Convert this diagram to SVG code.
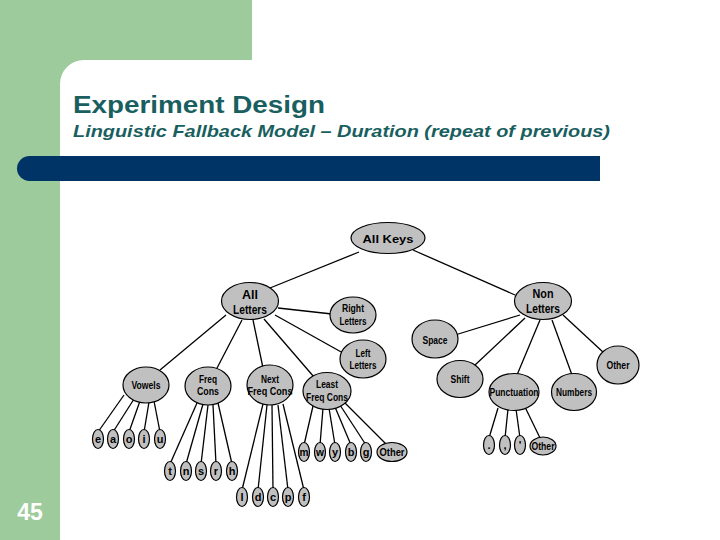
<svg xmlns="http://www.w3.org/2000/svg" width="720" height="540" viewBox="0 0 720 540">
<style>
.bg{fill:#9dcb9c}
.n{fill:#c0c0c0;stroke:#000;stroke-width:1.2}
.t{font-family:"Liberation Sans",Arial,sans-serif;font-weight:bold;font-size:11px;fill:#000;text-anchor:middle}
.big{font-size:12.5px}
.lf{font-size:11px}
.e line{stroke:#000;stroke-width:1.3}
.title{font-family:"Liberation Sans",Arial,sans-serif;font-weight:bold;fill:#1a5f5f}
</style>
<rect width="720" height="540" fill="#fff"/>
<rect class="bg" x="0" y="0" width="252" height="60"/>
<rect class="bg" x="0" y="0" width="60" height="540"/>
<path class="bg" d="M60,60 L84,60 A24,24 0 0 0 60,84 Z"/>
<rect x="17" y="156" width="583" height="25" rx="12.5" fill="#003366"/>
<rect x="580" y="156" width="20" height="25" fill="#003366"/>
<text class="title" x="73" y="113" font-size="24" textLength="252" lengthAdjust="spacingAndGlyphs">Experiment Design</text>
<text class="title" x="73" y="137" font-size="17" font-style="italic" textLength="537" lengthAdjust="spacingAndGlyphs">Linguistic Fallback Model – Duration (repeat of previous)</text>
<text x="30" y="520" font-family="'Liberation Sans',Arial,sans-serif" font-weight="bold" font-size="23" fill="#fff" text-anchor="middle">45</text>

<g id="connectors" class="e">
<line x1="359" y1="252" x2="270" y2="288"/>
<line x1="413" y1="250" x2="515" y2="295"/>
<line x1="278" y1="308" x2="332" y2="314"/>
<line x1="275" y1="315" x2="343" y2="353"/>
<line x1="226" y1="315" x2="160" y2="370"/>
<line x1="242" y1="320" x2="216" y2="370"/>
<line x1="253" y1="320" x2="263" y2="368"/>
<line x1="264" y1="319" x2="314" y2="377"/>
<line x1="520" y1="315" x2="455" y2="335"/>
<line x1="525" y1="318" x2="474" y2="366"/>
<line x1="540" y1="320" x2="517" y2="375"/>
<line x1="552" y1="320" x2="572" y2="375"/>
<line x1="563" y1="315" x2="604" y2="353"/>
<line x1="124" y1="395" x2="98" y2="432"/>
<line x1="134" y1="399" x2="113" y2="432"/>
<line x1="140" y1="401" x2="129" y2="432"/>
<line x1="149" y1="402" x2="144" y2="432"/>
<line x1="154" y1="401" x2="160" y2="432"/>
<line x1="197" y1="403" x2="170" y2="464"/>
<line x1="203" y1="404" x2="186" y2="464"/>
<line x1="208" y1="405" x2="201" y2="464"/>
<line x1="213" y1="405" x2="216" y2="464"/>
<line x1="218" y1="403" x2="232" y2="464"/>
<line x1="263" y1="404" x2="242" y2="490"/>
<line x1="267" y1="405" x2="258" y2="490"/>
<line x1="272" y1="405" x2="273" y2="490"/>
<line x1="278" y1="405" x2="288" y2="490"/>
<line x1="283" y1="404" x2="304" y2="490"/>
<line x1="313" y1="406" x2="304" y2="445"/>
<line x1="323" y1="408" x2="320" y2="445"/>
<line x1="329" y1="408" x2="335" y2="445"/>
<line x1="335" y1="407" x2="351" y2="445"/>
<line x1="340" y1="405" x2="366" y2="445"/>
<line x1="345" y1="403" x2="387" y2="445"/>
<line x1="498" y1="408" x2="489" y2="438"/>
<line x1="508" y1="409" x2="505" y2="438"/>
<line x1="516" y1="409" x2="520" y2="438"/>
<line x1="525" y1="407" x2="541" y2="440"/>
</g>

<g id="all-keys"><ellipse class="n" cx="388" cy="238" rx="37" ry="15.5"/><text class="t" x="388" y="243" font-size="15" textLength="51" lengthAdjust="spacingAndGlyphs">All Keys</text></g>
<g id="all-letters"><ellipse class="n" cx="250" cy="301" rx="28.5" ry="18.5"/><text class="t big" x="250" y="299">All</text><text class="t big" x="250" y="314" textLength="34" lengthAdjust="spacingAndGlyphs">Letters</text></g>
<g id="non-letters"><ellipse class="n" cx="543" cy="301" rx="28.5" ry="18.5"/><text class="t big" x="543" y="298" textLength="21" lengthAdjust="spacingAndGlyphs">Non</text><text class="t big" x="543" y="313" textLength="34" lengthAdjust="spacingAndGlyphs">Letters</text></g>
<g id="right-letters"><ellipse class="n" cx="353" cy="315" rx="23" ry="18"/><text class="t" x="353" y="312" textLength="22" lengthAdjust="spacingAndGlyphs">Right</text><text class="t" x="353" y="325" textLength="27" lengthAdjust="spacingAndGlyphs">Letters</text></g>
<g id="left-letters"><ellipse class="n" cx="363" cy="359" rx="23" ry="19"/><text class="t" x="363" y="357" textLength="15" lengthAdjust="spacingAndGlyphs">Left</text><text class="t" x="363" y="369" textLength="27" lengthAdjust="spacingAndGlyphs">Letters</text></g>
<g id="vowels"><ellipse class="n" cx="146" cy="385" rx="23" ry="18"/><text class="t" x="146" y="389" textLength="29" lengthAdjust="spacingAndGlyphs">Vowels</text></g>
<g id="freq-cons"><ellipse class="n" cx="208" cy="386" rx="23" ry="19"/><text class="t" x="208" y="383" textLength="18" lengthAdjust="spacingAndGlyphs">Freq</text><text class="t" x="208" y="395" textLength="22" lengthAdjust="spacingAndGlyphs">Cons</text></g>
<g id="next-freq-cons"><ellipse class="n" cx="270" cy="385" rx="23" ry="20"/><text class="t" x="270" y="383" textLength="18" lengthAdjust="spacingAndGlyphs">Next</text><text class="t" x="270" y="395" textLength="45" lengthAdjust="spacingAndGlyphs">Freq Cons</text></g>
<g id="least-freq-cons"><ellipse class="n" cx="327" cy="391" rx="24" ry="18.5"/><text class="t" x="327" y="388" textLength="22" lengthAdjust="spacingAndGlyphs">Least</text><text class="t" x="327" y="401" textLength="42" lengthAdjust="spacingAndGlyphs">Freq Cons</text></g>
<g id="space"><ellipse class="n" cx="435" cy="339" rx="23" ry="19"/><text class="t" x="435" y="344" textLength="25" lengthAdjust="spacingAndGlyphs">Space</text></g>
<g id="shift"><ellipse class="n" cx="460" cy="379" rx="23" ry="18.5"/><text class="t" x="460" y="383" textLength="19" lengthAdjust="spacingAndGlyphs">Shift</text></g>
<g id="punctuation"><ellipse class="n" cx="514" cy="392" rx="25" ry="18.5"/><text class="t" x="514" y="396" textLength="49" lengthAdjust="spacingAndGlyphs">Punctuation</text></g>
<g id="numbers"><ellipse class="n" cx="574" cy="392" rx="22.5" ry="18.5"/><text class="t" x="574" y="396" textLength="36" lengthAdjust="spacingAndGlyphs">Numbers</text></g>
<g id="other-nonletters"><ellipse class="n" cx="618" cy="365" rx="21" ry="19"/><text class="t" x="618" y="369" textLength="23" lengthAdjust="spacingAndGlyphs">Other</text></g>

<g id="leaf-e"><ellipse class="n" cx="98" cy="439" rx="5.5" ry="9.5"/><text class="t lf" x="98" y="443">e</text></g>
<g id="leaf-a"><ellipse class="n" cx="113" cy="439" rx="5.5" ry="9.5"/><text class="t lf" x="113" y="443">a</text></g>
<g id="leaf-o"><ellipse class="n" cx="129" cy="439" rx="5.5" ry="9.5"/><text class="t lf" x="129" y="443">o</text></g>
<g id="leaf-i"><ellipse class="n" cx="144" cy="439" rx="5.5" ry="9.5"/><text class="t lf" x="144" y="443">i</text></g>
<g id="leaf-u"><ellipse class="n" cx="160" cy="439" rx="5.5" ry="9.5"/><text class="t lf" x="160" y="443">u</text></g>

<g id="leaf-t"><ellipse class="n" cx="170" cy="471" rx="5.5" ry="9.5"/><text class="t lf" x="170" y="475">t</text></g>
<g id="leaf-n"><ellipse class="n" cx="186" cy="471" rx="5.5" ry="9.5"/><text class="t lf" x="186" y="475">n</text></g>
<g id="leaf-s"><ellipse class="n" cx="201" cy="471" rx="5.5" ry="9.5"/><text class="t lf" x="201" y="475">s</text></g>
<g id="leaf-r"><ellipse class="n" cx="216" cy="471" rx="5.5" ry="9.5"/><text class="t lf" x="216" y="475">r</text></g>
<g id="leaf-h"><ellipse class="n" cx="232" cy="471" rx="5.5" ry="9.5"/><text class="t lf" x="232" y="475">h</text></g>

<g id="leaf-l"><ellipse class="n" cx="242" cy="497" rx="5.5" ry="9.5"/><text class="t lf" x="242" y="501">l</text></g>
<g id="leaf-d"><ellipse class="n" cx="258" cy="497" rx="5.5" ry="9.5"/><text class="t lf" x="258" y="501">d</text></g>
<g id="leaf-c"><ellipse class="n" cx="273" cy="497" rx="5.5" ry="9.5"/><text class="t lf" x="273" y="501">c</text></g>
<g id="leaf-p"><ellipse class="n" cx="288" cy="497" rx="5.5" ry="9.5"/><text class="t lf" x="288" y="501">p</text></g>
<g id="leaf-f"><ellipse class="n" cx="304" cy="497" rx="5.5" ry="9.5"/><text class="t lf" x="304" y="501">f</text></g>

<g id="leaf-m"><ellipse class="n" cx="304" cy="452" rx="5.5" ry="9.5"/><text class="t lf" x="304" y="456" textLength="9" lengthAdjust="spacingAndGlyphs">m</text></g>
<g id="leaf-w"><ellipse class="n" cx="320" cy="452" rx="5.5" ry="9.5"/><text class="t lf" x="320" y="456" textLength="8" lengthAdjust="spacingAndGlyphs">w</text></g>
<g id="leaf-y"><ellipse class="n" cx="335" cy="452" rx="5.5" ry="9.5"/><text class="t lf" x="335" y="456">y</text></g>
<g id="leaf-b"><ellipse class="n" cx="351" cy="452" rx="5.5" ry="9.5"/><text class="t lf" x="351" y="456">b</text></g>
<g id="leaf-g"><ellipse class="n" cx="366" cy="452" rx="5.5" ry="9.5"/><text class="t lf" x="366" y="456">g</text></g>
<g id="leaf-other-least"><ellipse class="n" cx="392" cy="452" rx="15" ry="9.5"/><text class="t" x="392" y="456" font-size="10" textLength="25" lengthAdjust="spacingAndGlyphs">Other</text></g>

<g id="leaf-period"><ellipse class="n" cx="489" cy="445" rx="5.5" ry="9.5"/><text class="t lf" x="489" y="449">.</text></g>
<g id="leaf-comma"><ellipse class="n" cx="505" cy="445" rx="5.5" ry="9.5"/><text class="t lf" x="505" y="449">,</text></g>
<g id="leaf-apostrophe"><ellipse class="n" cx="520" cy="445" rx="5.5" ry="9.5"/><text class="t lf" x="520" y="449">'</text></g>
<g id="leaf-other-punct"><ellipse class="n" cx="543" cy="446" rx="13" ry="9"/><text class="t" x="543" y="450" font-size="10" textLength="23" lengthAdjust="spacingAndGlyphs">Other</text></g>
</svg>
